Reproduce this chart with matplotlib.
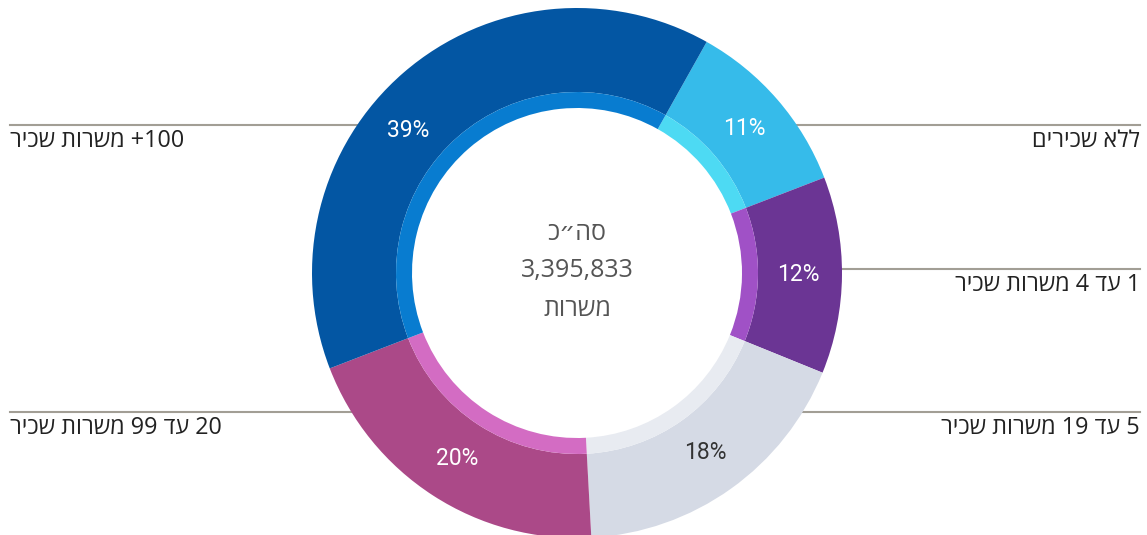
import numpy as np
import matplotlib
matplotlib.use("Agg")
import matplotlib.pyplot as plt

plt.rcParams["font.family"] = ["Open Sans", "DejaVu Sans"]

# data (clockwise from the top-right boundary)
categories = ["ללא שכירים", "1 עד 4 משרות שכיר", "5 עד 19 משרות שכיר",
              "20 עד 99 משרות שכיר", "100+ משרות שכיר"]
shares = [11, 12, 18, 20, 39]
outer_colors = ["#36BBEA", "#6B3594", "#D5DAE5", "#AB4988", "#0356A3"]
inner_colors = ["#4DDAF3", "#A051C6", "#E8EBF1", "#D36CC3", "#087CD0"]
pct_colors = ["white", "white", "#333333", "white", "white"]
center_lines = ["סה״כ", "3,395,833", "משרות"]

# layout: side of label, y pixel of the leader line, nudge of the % label (deg)
label_side = ["right", "right", "right", "left", "left"]
label_line_y = [125, 269, 412, 412, 125]
pct_nudge = [0, 0, 0, 0, 8.8]

W, H = 1147, 535
CX, CY = 577, 273
R_OUT, R_MID, R_IN = 265, 181, 165


def visual(text):
    """Reorder a right-to-left string for left-to-right drawing."""
    out = []
    for word in reversed(text.split(" ")):
        if any("\u0590" <= c <= "\u05ff" for c in word):
            out.append(word[::-1])
        elif word.endswith("+"):
            out.append("+" + word[:-1])
        else:
            out.append(word)
    return " ".join(out)


fig = plt.figure(figsize=(W / 100, H / 100), dpi=100)
ax = fig.add_axes([0, 0, 1, 1])
center = (CX, H - CY)

wedges, _ = ax.pie(shares, colors=outer_colors, startangle=90 - 29.3, counterclock=False,
                   radius=R_OUT, center=center,
                   wedgeprops=dict(width=R_OUT - R_MID, linewidth=0))
ax.pie(shares, colors=inner_colors, startangle=90 - 29.3, counterclock=False,
       radius=R_MID, center=center,
       wedgeprops=dict(width=R_MID - R_IN, linewidth=0))

for w, share, col, nudge in zip(wedges, shares, pct_colors, pct_nudge):
    mid = np.deg2rad((w.theta1 + w.theta2) / 2 + nudge)
    x = CX + 221 * np.cos(mid)
    y = H - CY + 221 * np.sin(mid)
    ax.text(x, y, f"{share}%", ha="center", va="center", fontsize=16.5,
            color=col, family=["Roboto", "DejaVu Sans"])

line_color = "#A29E95"
for name, side, ly in zip(categories, label_side, label_line_y):
    dx = np.sqrt(R_OUT ** 2 - (CY - ly) ** 2)
    yy = H - ly
    if side == "left":
        ax.plot([10, CX - dx], [yy, yy], color=line_color, lw=1.5, zorder=0)
        ax.text(10, yy - 16, visual(name), ha="left", va="center", fontsize=16.8, color="#222222")
    else:
        ax.plot([CX + dx, 1140], [yy, yy], color=line_color, lw=1.5, zorder=0)
        ax.text(1140, yy - 16, visual(name), ha="right", va="center", fontsize=16.8, color="#222222")

for i, line in enumerate(center_lines):
    ax.text(CX, H - (233 + 38 * i), visual(line), ha="center", va="center",
            fontsize=18, color="#555555")

ax.set_xlim(0, W)
ax.set_ylim(0, H)
ax.axis("off")
fig.savefig("out.png", dpi=100)
